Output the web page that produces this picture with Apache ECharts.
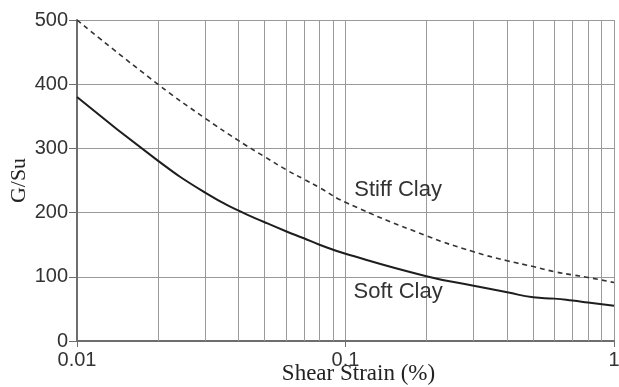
<!DOCTYPE html>
<html>
<head>
<meta charset="utf-8">
<script src="https://cdn.jsdelivr.net/npm/echarts@6/dist/echarts.min.js"></script>
<style>
  html, body { margin: 0; padding: 0; background: #fff; }
  #chart { width: 619px; height: 387px; }
</style>
</head>
<body>
<div id="chart"></div>
<script>
// shear strain (%) read at the grid lines
var strain = [0.01, 0.02, 0.03, 0.04, 0.05, 0.06, 0.07, 0.08, 0.1, 0.2, 0.3, 0.4, 0.5, 0.6, 0.7, 0.8, 1];
var softClay = [380, 281, 231, 203, 185, 171, 160, 150, 136, 101, 86, 76, 68, 66, 63, 60, 55];
var stiffClay = [500, 400, 347, 312, 287, 267, 252, 239, 216, 164, 139, 125, 116, 108, 103, 99, 91];
var minorLines = [0.02, 0.03, 0.04, 0.05, 0.06, 0.07, 0.08, 0.09, 0.2, 0.3, 0.4, 0.5, 0.6, 0.7, 0.8, 0.9];
var curveLabels = [
  { name: 'Stiff Clay', x: 0.157, y: 235 },
  { name: 'Soft Clay', x: 0.157, y: 76 }
];

var sans = '"Liberation Sans", Arial, sans-serif';
var serif = '"Liberation Serif", "Times New Roman", serif';

var chart = echarts.init(document.getElementById('chart'));

var option = {
  animation: false,
  backgroundColor: '#fff',
  grid: { left: 77, right: 5, top: 20, bottom: 46, outerBoundsMode: 'none', containLabel: false },
  xAxis: {
    type: 'log',
    logBase: 10,
    min: 0.01,
    max: 1,
    name: 'Shear Strain (%)',
    nameLocation: 'middle',
    nameGap: 21,
    nameMoveOverlap: false,
    nameTextStyle: { fontFamily: serif, fontSize: 23, color: '#222', padding: [0, 0, 0, 26] },
    axisLine: { lineStyle: { color: '#6e6e6e', width: 2 } },
    axisTick: { show: true, length: 6, lineStyle: { color: '#6e6e6e' } },
    axisLabel: { fontFamily: sans, fontSize: 20, color: '#333', margin: 9 },
    splitLine: { show: true, lineStyle: { color: '#9a9a9a', width: 1 } },
    minorTick: { show: false }
  },
  yAxis: {
    type: 'value',
    min: 0,
    max: 500,
    interval: 100,
    name: 'G/Su',
    nameLocation: 'middle',
    nameGap: 47,
    nameMoveOverlap: false,
    nameTextStyle: { fontFamily: serif, fontSize: 22, color: '#222' },
    axisLine: { show: true, lineStyle: { color: '#6e6e6e', width: 2 } },
    axisTick: { show: true, length: 8, lineStyle: { color: '#6e6e6e' } },
    axisLabel: { fontFamily: sans, fontSize: 20, color: '#333', margin: 9 },
    splitLine: { show: true, lineStyle: { color: '#9a9a9a', width: 1 } }
  },
  series: [
    {
      name: 'Stiff Clay',
      type: 'line',
      smooth: true,
      symbol: 'none',
      data: strain.map(function (s, i) { return [s, stiffClay[i]]; }),
      lineStyle: { color: '#333', width: 1.6, type: [5, 4] },
      z: 3,
      markLine: {
        silent: true,
        symbol: 'none',
        label: { show: false },
        lineStyle: { color: '#9a9a9a', width: 1, type: 'solid' },
        data: minorLines.map(function (v) { return { xAxis: v }; }),
        z: 1
      }
    },
    {
      name: 'Soft Clay',
      type: 'line',
      smooth: true,
      symbol: 'none',
      data: strain.map(function (s, i) { return [s, softClay[i]]; }),
      lineStyle: { color: '#1e1e1e', width: 2 },
      z: 3,
      markPoint: {
        symbol: 'circle',
        symbolSize: 0,
        silent: true,
        label: {
          show: true,
          position: 'inside',
          fontFamily: sans,
          fontSize: 22,
          color: '#333',
          formatter: function (p) { return p.name; }
        },
        data: curveLabels.map(function (c) { return { name: c.name, coord: [c.x, c.y] }; })
      }
    }
  ]
};

chart.setOption(option);
</script>
</body>
</html>
